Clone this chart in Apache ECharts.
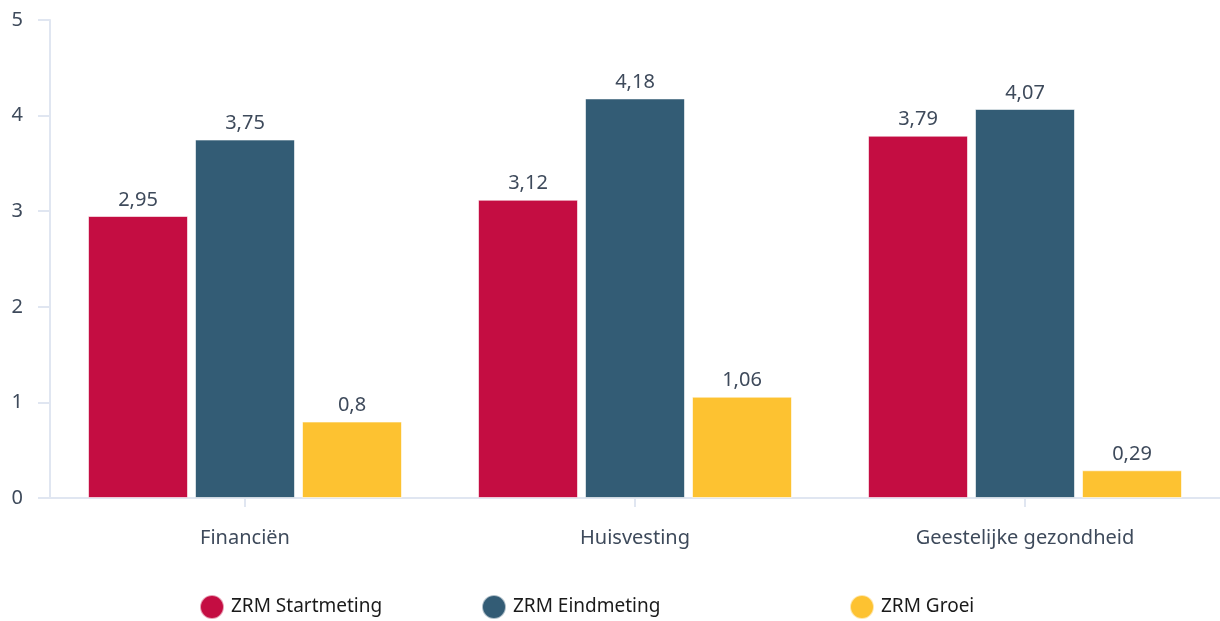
<!DOCTYPE html>
<html>
<head>
<meta charset="utf-8">
<script src="https://cdn.jsdelivr.net/npm/echarts@6/dist/echarts.min.js"></script>
<style>
  html, body { margin: 0; padding: 0; background: #fff; }
  #chart { width: 1220px; height: 621px; }
</style>
</head>
<body>
<div id="chart"></div>
<script>
// Gegevens van de grafiek
const categorieen = ['Financiën', 'Huisvesting', 'Geestelijke gezondheid']
const startmeting = [2.95, 3.12, 3.79]
const eindmeting = [3.75, 4.18, 4.07]
const groei = [0.8, 1.06, 0.29]
const yTicks = [0, 1, 2, 3, 4, 5]

const fontFamily = '"Noto Sans", sans-serif'
const asLijn = '#E0E6F1'
const tekstKleur = '#3E4A5B'

// Komma als decimaalteken
const metKomma = v => String(v).replace('.', ',')

const labelStijl = {
  show: true,
  position: 'top',
  distance: 6,
  color: tekstKleur,
  fontFamily: fontFamily,
  fontSize: 20,
  formatter: p => metKomma(p.value)
}

function legenda(naam, left) {
  return {
    data: [naam],
    left: left,
    top: 589,
    icon: 'circle',
    itemWidth: 24,
    itemHeight: 24,
    itemGap: 0,
    selectedMode: false,
    textStyle: { fontFamily: fontFamily, fontSize: 19, color: '#1A1A1A', padding: [0, 0, 0, 2] }
  }
}

const chart = echarts.init(document.getElementById('chart'))

const option = {
  animation: false,
  color: ['#C40D42', '#335C75', '#FDC231'],
  legend: [
    legenda('ZRM Startmeting', 194),
    legenda('ZRM Eindmeting', 476),
    legenda('ZRM Groei', 844)
  ],
  grid: {
    left: 50,
    width: 1176,
    top: 20,
    height: 478,
    containLabel: false
  },
  xAxis: {
    type: 'category',
    data: categorieen,
    axisLine: { lineStyle: { color: asLijn, width: 2 } },
    axisTick: { show: true, alignWithLabel: true, length: 9, lineStyle: { color: asLijn, width: 2 } },
    axisLabel: {
      margin: 30,
      color: tekstKleur,
      fontFamily: fontFamily,
      fontSize: 20
    }
  },
  yAxis: {
    type: 'value',
    min: yTicks[0],
    max: yTicks[yTicks.length - 1],
    interval: 1,
    axisLine: { show: true, lineStyle: { color: asLijn, width: 2 } },
    axisTick: { show: true, length: 12, lineStyle: { color: asLijn, width: 2 } },
    splitLine: { show: false },
    axisLabel: {
      margin: 27,
      color: tekstKleur,
      fontFamily: fontFamily,
      fontSize: 20
    }
  },
  series: [
    {
      name: 'ZRM Startmeting',
      type: 'bar',
      data: startmeting,
      barWidth: 100,
      barGap: '7%',
      itemStyle: { borderColor: 'rgba(255,255,255,0.6)', borderWidth: 1 },
      label: labelStijl
    },
    {
      name: 'ZRM Eindmeting',
      type: 'bar',
      data: eindmeting,
      barWidth: 100,
      barGap: '7%',
      itemStyle: { borderColor: 'rgba(255,255,255,0.6)', borderWidth: 1 },
      label: labelStijl
    },
    {
      name: 'ZRM Groei',
      type: 'bar',
      data: groei,
      barWidth: 100,
      barGap: '7%',
      itemStyle: { borderColor: 'rgba(255,255,255,0.6)', borderWidth: 1 },
      label: labelStijl
    }
  ]
}

chart.setOption(option)
</script>
</body>
</html>
